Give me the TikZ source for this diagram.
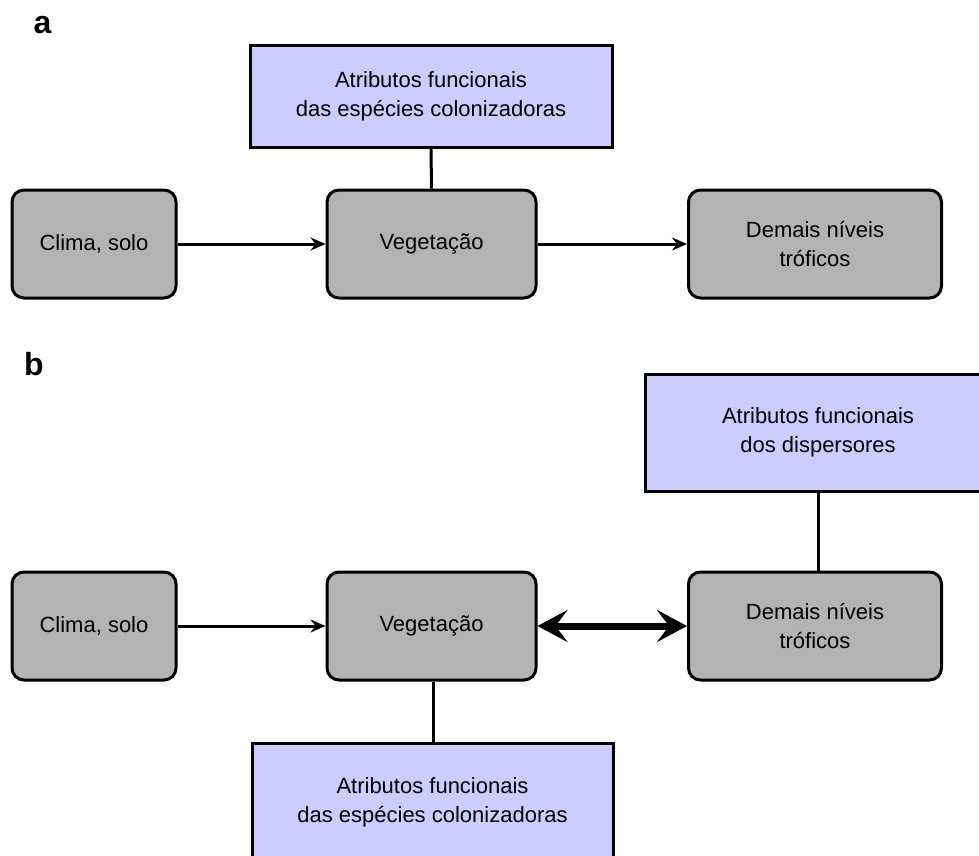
\documentclass[tikz,border=0pt]{standalone}
\usepackage{fontspec}
\setmainfont{Liberation Sans}
\usetikzlibrary{positioning, arrows.meta}
\definecolor{boxgray}{HTML}{B3B3B3}
\definecolor{traitblue}{HTML}{CCCCFF}
\newcommand{\BoxF}{\fontsize{22}{29}\selectfont}
\newcommand{\PanelF}{\fontsize{32}{32}\selectfont\bfseries}

\begin{document}
\begin{tikzpicture}[x=1pt, y=-1pt,
    factor/.style={draw, fill=boxgray, line width=3pt, rounded corners=12pt,
      minimum height=108pt, inner sep=0pt, align=center, font=\BoxF},
    trait/.style={draw, fill=traitblue, line width=3pt, inner sep=0pt,
      align=center, font=\BoxF},
    link/.style={line width=3pt},
    flow/.style={line width=3pt, -{Stealth[length=15pt, width=13pt, inset=5pt]}},
    mutual/.style={line width=7pt, {Stealth[length=30pt, width=32pt, inset=12pt]}-{Stealth[length=30pt, width=32pt, inset=12pt]}}]
  \useasboundingbox (0,0) rectangle (979,855);

  % panel a
  \node[anchor=base, font=\PanelF] (laba) at (42.5,33) {a};
  \node[trait, minimum width=362pt, minimum height=102pt] (traita) at (431,96)
    {Atributos funcionais\\das espécies colonizadoras};
  \node[factor, minimum width=164pt] (climaa) at (94,244) {Clima, solo};
  \node[factor, minimum width=209pt] (vega) at (431.5,244) {Vegetação};
  \node[factor, minimum width=253pt] (demaisa) at (815,244) {Demais níveis\\tróficos};
  \draw[link] (traita) -- (vega);
  \draw[flow] (climaa) -- (vega);
  \draw[flow] (vega) -- (demaisa);

  % panel b
  \node[anchor=base, font=\PanelF] (labb) at (34,375) {b};
  \node[trait, minimum width=346pt, minimum height=117pt] (dispb) at (818,432.5)
    {Atributos funcionais\\dos dispersores};
  \node[factor, minimum width=164pt] (climab) at (94,626) {Clima, solo};
  \node[factor, minimum width=209pt] (vegb) at (431.5,626) {Vegetação};
  \node[factor, minimum width=253pt] (demaisb) at (815,626) {Demais níveis\\tróficos};
  \node[trait, minimum width=361pt, minimum height=118pt] (traitb) at (432.5,802)
    {Atributos funcionais\\das espécies colonizadoras};
  \draw[link] (dispb.south -| 818,0) -- (demaisb.north -| 818,0);
  \draw[link] (vegb.south -| 433,0) -- (traitb.north -| 433,0);
  \draw[flow] (climab) -- (vegb);
  \draw[mutual] (vegb) -- (demaisb);
\end{tikzpicture}
\end{document}
